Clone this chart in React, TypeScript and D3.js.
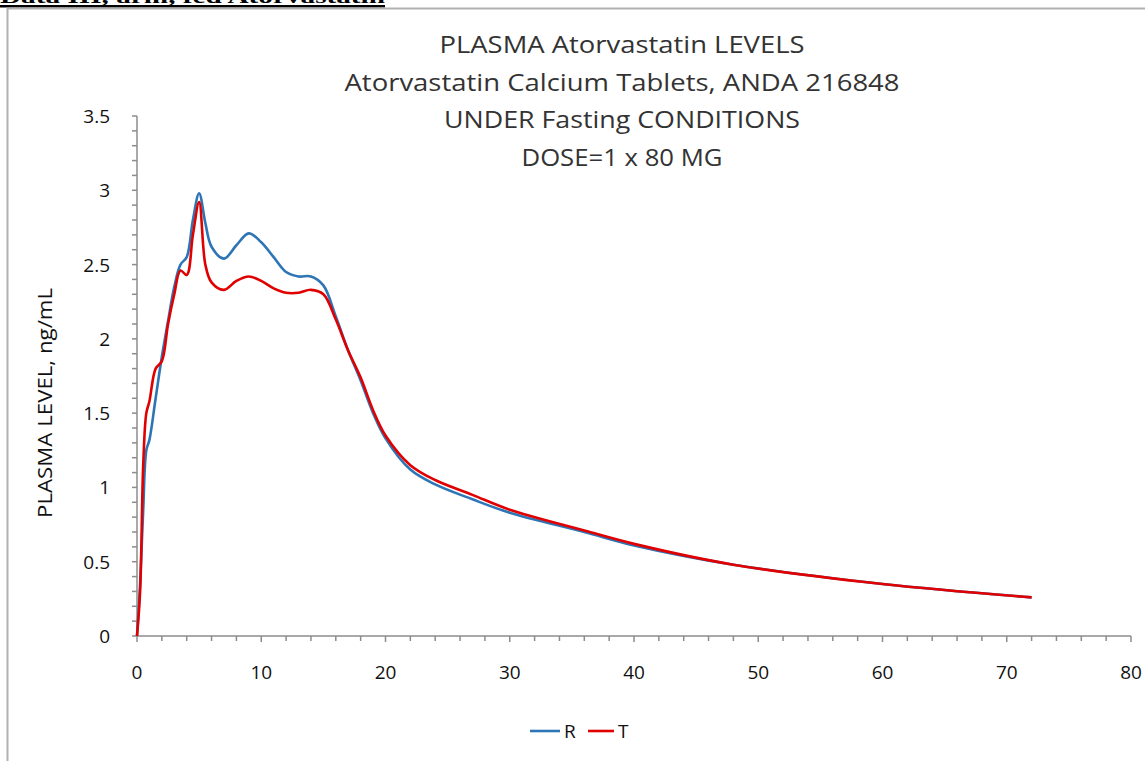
import React from "react";
import * as d3 from "d3";

const timesR = [0, 0.25, 0.5, 0.75, 1, 1.5, 2, 2.5, 3, 3.5, 4, 4.5, 5, 5.5, 6, 7, 8, 9, 10, 11, 12, 13, 14, 15, 16, 17, 18, 19, 20, 22, 24, 27, 30, 36, 40, 48, 60, 72];
const valuesR = [0, 0.35, 0.85, 1.25, 1.32, 1.6, 1.88, 2.12, 2.35, 2.5, 2.55, 2.8, 2.98, 2.78, 2.62, 2.54, 2.63, 2.71, 2.65, 2.55, 2.45, 2.42, 2.42, 2.36, 2.15, 1.92, 1.72, 1.5, 1.33, 1.12, 1.02, 0.92, 0.83, 0.7, 0.61, 0.48, 0.35, 0.26];
const timesT = [0, 0.25, 0.5, 0.75, 1, 1.5, 2, 2.5, 3, 3.5, 4, 4.5, 5, 5.5, 6, 7, 8, 9, 10, 11, 12, 13, 14, 15, 16, 17, 18, 19, 20, 22, 24, 27, 30, 36, 40, 48, 60, 72];
const valuesT = [0, 0.3, 1.15, 1.5, 1.58, 1.8, 1.85, 2.1, 2.3, 2.46, 2.43, 2.7, 2.92, 2.5, 2.38, 2.33, 2.39, 2.42, 2.39, 2.34, 2.31, 2.31, 2.33, 2.3, 2.13, 1.92, 1.74, 1.52, 1.35, 1.15, 1.05, 0.95, 0.85, 0.71, 0.62, 0.48, 0.35, 0.26];

const xTicks = [0, 10, 20, 30, 40, 50, 60, 70, 80];
const yTicks = [0, 0.5, 1, 1.5, 2, 2.5, 3, 3.5];
const titleLines = [
  "PLASMA Atorvastatin LEVELS",
  "Atorvastatin Calcium Tablets, ANDA 216848",
  "UNDER Fasting CONDITIONS",
  "DOSE=1 x 80 MG",
];
const titleWidths = [365, 555, 356, 201];
const seriesNames = ["R", "T"];
const seriesColors = ["#2E75B6", "#E00000"];

export default function App() {
  const W = 1145, H = 761;
  const x = d3.scaleLinear().domain([0, 80]).range([137, 1131]);
  const y = d3.scaleLinear().domain([0, 3.5]).range([636, 116]);
  const line = d3
    .line<[number, number]>()
    .x((d) => x(d[0]))
    .y((d) => y(d[1]))
    .curve(d3.curveCatmullRom.alpha(0.5));
  const dataR: [number, number][] = timesR.map((t, i) => [t, valuesR[i]]);
  const dataT: [number, number][] = timesT.map((t, i) => [t, valuesT[i]]);
  const minorY = d3.range(0, 36).map((i) => i / 10);
  const minorX = d3.range(0, 41).map((i) => i * 2);
  const font = "'Open Sans', 'Liberation Sans', sans-serif";
  const axisColor = "#8c8c8c";

  return (
    <svg
      width={W}
      height={H}
      style={{ position: "absolute", left: 0, top: 0, background: "#fff" }}
      fontFamily={font}
    >
      <text
        x={0}
        y={3}
        fontFamily="'Liberation Serif', serif"
        fontWeight="bold"
        fontSize={18}
        textLength={385}
        lengthAdjust="spacingAndGlyphs"
        fill="#000"
      >
        Data III, arm, fed Atorvastatin
      </text>
      <rect x={0} y={5} width={385} height={2.5} fill="#000" />
      <path d={`M7.5,${H + 5} V8.5 H${W + 5}`} fill="none" stroke="#b0b0b0" strokeWidth={2} />

      {titleLines.map((t, i) => (
        <text
          key={i}
          x={622}
          y={53 + i * 37.5}
          textAnchor="middle"
          fontSize={24}
          fill="#333"
          textLength={titleWidths[i]}
          lengthAdjust="spacingAndGlyphs"
        >
          {t}
        </text>
      ))}

      {/* y axis */}
      <line x1={137} x2={137} y1={y(3.5)} y2={y(0)} stroke={axisColor} strokeWidth={1.5} />
      {minorY.map((v, i) => (
        <line key={i} x1={132} x2={137} y1={y(v)} y2={y(v)} stroke={axisColor} strokeWidth={1.5} />
      ))}
      {yTicks.map((v) => (
        <text key={v} x={110} y={y(v) + 7} textAnchor="end" fontSize={19} fill="#111">
          {v}
        </text>
      ))}
      {/* x axis */}
      <line x1={x(0)} x2={x(80)} y1={636} y2={636} stroke={axisColor} strokeWidth={1.5} />
      {minorX.map((v, i) => (
        <line key={i} x1={x(v)} x2={x(v)} y1={636} y2={v % 10 === 0 ? 642 : 641} stroke={axisColor} strokeWidth={1.5} />
      ))}
      {xTicks.map((v) => (
        <text key={v} x={x(v)} y={679} textAnchor="middle" fontSize={19} fill="#111">
          {v}
        </text>
      ))}

      <text
        transform={`translate(52,403) rotate(-90)`}
        textAnchor="middle"
        fontSize={20}
        fill="#111"
        textLength={230}
        lengthAdjust="spacingAndGlyphs"
      >
        PLASMA LEVEL, ng/mL
      </text>

      <path d={line(dataR) || ""} fill="none" stroke={seriesColors[0]} strokeWidth={2.6} />
      <path d={line(dataT) || ""} fill="none" stroke={seriesColors[1]} strokeWidth={2.6} />

      {/* legend */}
      <line x1={530} x2={560} y1={731} y2={731} stroke={seriesColors[0]} strokeWidth={2.6} />
      <text x={564} y={738} fontSize={19} fill="#111">{seriesNames[0]}</text>
      <line x1={588} x2={614} y1={731} y2={731} stroke={seriesColors[1]} strokeWidth={2.6} />
      <text x={618} y={738} fontSize={19} fill="#111">{seriesNames[1]}</text>
    </svg>
  );
}
